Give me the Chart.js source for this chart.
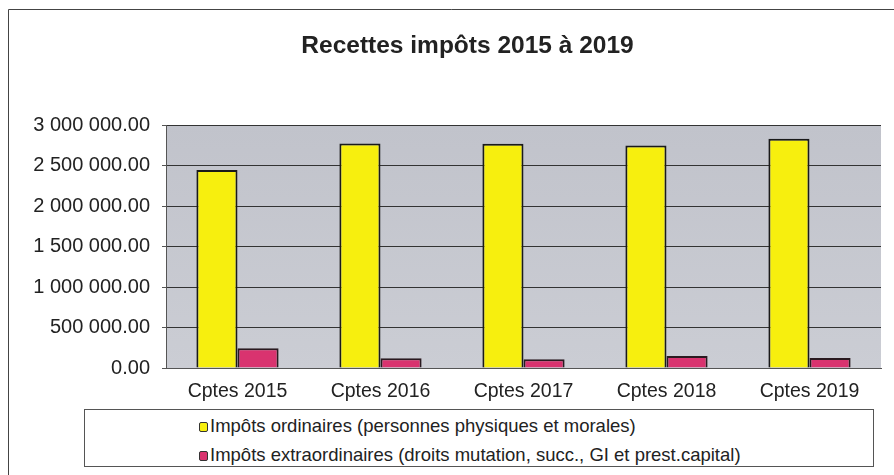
<!DOCTYPE html>
<html>
<head>
<meta charset="utf-8">
<script src="https://cdn.jsdelivr.net/npm/chart.js@4"></script>
<style>
  body { margin: 0; background: #fff; }
  #wrap { position: relative; width: 894px; height: 475px; }
  #legend {
    position: absolute; left: 84px; top: 409px; width: 790px; height: 58px;
    border: 1px solid #555; background: #fff; box-sizing: border-box;
    font-family: Arial, "Liberation Sans", sans-serif; font-size: 18.5px; color: #222;
    padding: 5px 0 0 114px;
  }
  .item { height: 29px; line-height: 22px; }
  .sw { display: inline-block; width: 7px; height: 8px; border: 1.5px solid #333; border-radius: 2px; margin-right: 2px; vertical-align: 0px; }
</style>
</head>
<body>
<div id="wrap">
  <canvas id="myChart" width="894" height="475"></canvas>
  <div id="legend"></div>
</div>
<script>
// values
const categories = ['Cptes 2015', 'Cptes 2016', 'Cptes 2017', 'Cptes 2018', 'Cptes 2019'];
const ordinaires = [2450000, 2775000, 2772000, 2752000, 2836000];
const extraordinaires = [243000, 120000, 107000, 148000, 123000];
const seriesLabels = [
  'Impôts ordinaires (personnes physiques et morales)',
  'Impôts extraordinaires (droits mutation, succ., GI et prest.capital)'
];
const seriesColors = ['#f7ef0e', '#d9336f'];

// number like "2 500 000.00"
function formatNumber(v) {
  const parts = v.toFixed(2).split('.');
  return parts[0].replace(/\B(?=(\d{3})+(?!\d))/g, ' ') + '.' + parts[1];
}

// gray plot area and the scanned frame
const backdrop = {
  id: 'backdrop',
  afterLayout(chart) {
    // the scanned title sits a bit right of the page centre
    if (chart.titleBlock) {
      chart.titleBlock.left += 22;
      chart.titleBlock.right += 22;
    }
  },
  beforeDraw(chart) {
    const c = chart.ctx, a = chart.chartArea;
    c.save();
    const g = c.createLinearGradient(0, a.top, 0, a.bottom);
    g.addColorStop(0, '#c1c3cb');
    g.addColorStop(1, '#cbcdd4');
    c.fillStyle = g;
    c.fillRect(a.left, a.top, a.right - a.left, a.bottom - a.top);
    c.strokeStyle = '#444';
    c.lineWidth = 1;
    c.beginPath();
    c.moveTo(8.5, 475);
    c.lineTo(8.5, 9.5);
    c.lineTo(894, 9.5);
    c.stroke();
    c.restore();
  }
};

const ctx = document.getElementById('myChart');
const chart = new Chart(ctx, {
  type: 'bar',
  data: {
    labels: categories,
    datasets: [{
      label: seriesLabels[0],
      data: ordinaires,
      backgroundColor: seriesColors[0],
      borderColor: '#1a1a1a',
      borderWidth: 2
    }, {
      label: seriesLabels[1],
      data: extraordinaires,
      backgroundColor: seriesColors[1],
      borderColor: '#2a1a20',
      borderWidth: 2
    }]
  },
  options: {
    responsive: false,
    animation: false,
    layout: { padding: { left: 10, right: 13, top: 0, bottom: 70 } },
    datasets: { bar: { barPercentage: 1, categoryPercentage: 0.575 } },
    plugins: {
      legend: { display: false },
      tooltip: { enabled: false },
      title: {
        display: true,
        text: 'Recettes impôts 2015 à 2019',
        color: '#222',
        font: { family: 'Arial', size: 24.5, weight: 'bold' },
        padding: { top: 32, bottom: 64 }
      }
    },
    scales: {
      x: {
        grid: { display: false, drawTicks: false },
        border: { display: true, color: '#555' },
        ticks: { color: '#222', font: { family: 'Arial', size: 19.5 }, padding: 12 },
        afterFit(scale) { scale.height = 37; }
      },
      y: {
        min: 0,
        max: 3000000,
        grid: { color: '#333', lineWidth: 1, tickLength: 4, tickColor: '#555' },
        border: { display: true, color: '#555' },
        ticks: {
          stepSize: 500000,
          color: '#222',
          font: { family: 'Arial', size: 20 },
          padding: 12,
          callback: v => formatNumber(v)
        },
        afterFit(scale) { scale.width = 156; }
      }
    }
  },
  plugins: [backdrop]
});

// legend box built from the same labels and colours
const legend = document.getElementById('legend');
seriesLabels.forEach((label, i) => {
  const row = document.createElement('div');
  row.className = 'item';
  const sw = document.createElement('span');
  sw.className = 'sw';
  sw.style.background = seriesColors[i];
  row.appendChild(sw);
  row.appendChild(document.createTextNode(label));
  legend.appendChild(row);
});
</script>
</body>
</html>
